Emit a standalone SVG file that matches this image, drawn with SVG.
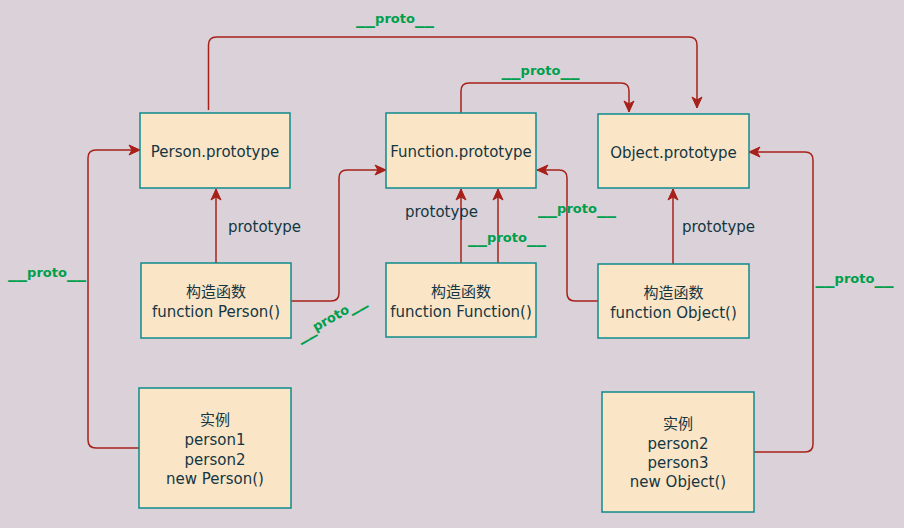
<svg xmlns="http://www.w3.org/2000/svg" width="904" height="528" viewBox="0 0 904 528">
<style>
.node rect{fill:#FAE5C7;stroke:#0F8B8D;stroke-width:1.5}
.node text,.lbl{font-family:"DejaVu Sans","Noto Sans CJK SC",sans-serif;font-size:15px;fill:#143642;text-anchor:middle}
.cjk{font-size:16px}
.lbl{text-anchor:start}
.edge path{fill:none;stroke:#A8201A;stroke-width:1.5}
.pl{font-family:"DejaVu Sans",sans-serif;font-weight:bold;font-size:13px;fill:#009F4D;text-anchor:middle}
.us{font-size:19px}
</style>
<defs>
<marker id="arr" markerUnits="userSpaceOnUse" markerWidth="14" markerHeight="12" viewBox="0 0 14 12" refX="12" refY="6" orient="auto">
<path d="M1,1 L12,6 L1,11 L4,6 z" fill="#A8201A" stroke="#A8201A" stroke-width="1"/>
</marker>
</defs>
<rect x="0" y="0" width="904" height="528" fill="#DAD2D8"/>
<g class="edge" id="connectors">
<path d="M208.5,110 V45 Q208.5,37 216.5,37 H689 Q697,37 697,45 V108" marker-end="url(#arr)"/>
<path d="M461,113 V91 Q461,83 469,83 H621 Q629,83 629,91 V112" marker-end="url(#arr)"/>
<path d="M216,263 V189" marker-end="url(#arr)"/>
<path d="M291,301 H331 Q339,301 339,293 V178 Q339,170 347,170 H386" marker-end="url(#arr)"/>
<path d="M461,263 V189" marker-end="url(#arr)"/>
<path d="M498,263 V189" marker-end="url(#arr)"/>
<path d="M598,301 H575 Q567,301 567,293 V178 Q567,170 559,170 H537" marker-end="url(#arr)"/>
<path d="M673,264 V189" marker-end="url(#arr)"/>
<path d="M139,448 H96 Q88,448 88,440 V158 Q88,150 96,150 H140" marker-end="url(#arr)"/>
<path d="M754,452 H805 Q813,452 813,444 V160 Q813,152 805,152 H749" marker-end="url(#arr)"/>
</g>
<g id="person-prototype" class="node">
<rect x="140" y="113" width="150" height="75"/>
<text x="215" y="157">Person.prototype</text>
</g>
<g id="function-prototype" class="node">
<rect x="386" y="113" width="150" height="75"/>
<text x="461" y="157">Function.prototype</text>
</g>
<g id="object-prototype" class="node">
<rect x="598" y="114" width="151" height="74"/>
<text x="673.5" y="158">Object.prototype</text>
</g>
<g id="ctor-person" class="node">
<rect x="141" y="263" width="150" height="75"/>
<text x="216" y="297" class="cjk">构造函数</text>
<text x="216" y="317">function Person()</text>
</g>
<g id="ctor-function" class="node">
<rect x="386" y="263" width="150" height="74"/>
<text x="461" y="297" class="cjk">构造函数</text>
<text x="461" y="317">function Function()</text>
</g>
<g id="ctor-object" class="node">
<rect x="598" y="264" width="151" height="74"/>
<text x="673.5" y="298" class="cjk">构造函数</text>
<text x="673.5" y="318">function Object()</text>
</g>
<g id="inst-person" class="node">
<rect x="139" y="388" width="152" height="120"/>
<text x="215" y="425" class="cjk">实例</text>
<text x="215" y="445">person1</text>
<text x="215" y="465">person2</text>
<text x="215" y="484">new Person()</text>
</g>
<g id="inst-object" class="node">
<rect x="602" y="392" width="152" height="120"/>
<text x="678" y="429" class="cjk">实例</text>
<text x="678" y="449">person2</text>
<text x="678" y="468">person3</text>
<text x="678" y="487">new Object()</text>
</g>
<g id="labels">
<text class="pl" x="395" y="23"><tspan class="us">__</tspan>proto<tspan class="us">__</tspan></text>
<text class="pl" x="540.5" y="75"><tspan class="us">__</tspan>proto<tspan class="us">__</tspan></text>
<text class="pl" x="507" y="242"><tspan class="us">__</tspan>proto<tspan class="us">__</tspan></text>
<text class="pl" x="577" y="213"><tspan class="us">__</tspan>proto<tspan class="us">__</tspan></text>
<text class="pl" x="854.5" y="283"><tspan class="us">__</tspan>proto<tspan class="us">__</tspan></text>
<text class="pl" x="47" y="277"><tspan class="us">__</tspan>proto<tspan class="us">__</tspan></text>
<text class="pl" transform="translate(333,322) rotate(-29.7)" x="0" y="0"><tspan class="us">__</tspan>proto<tspan class="us">__</tspan></text>
<text class="lbl" x="228" y="232">prototype</text>
<text class="lbl" x="405" y="217">prototype</text>
<text class="lbl" x="682" y="232">prototype</text>
</g>
</svg>
